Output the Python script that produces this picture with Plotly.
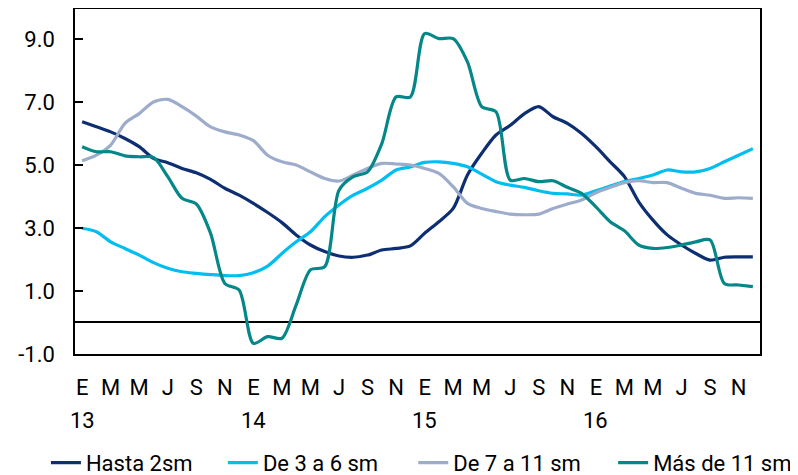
import plotly.graph_objects as go

months = list(range(48))
month_letters = ["E", "M", "M", "J", "S", "N"]
years = ["13", "14", "15", "16"]

hasta_2sm = [6.37, 6.21, 6.05, 5.84, 5.58, 5.21, 5.07, 4.89, 4.75, 4.54, 4.26, 4.04,
             3.78, 3.49, 3.17, 2.78, 2.46, 2.25, 2.11, 2.07, 2.14, 2.30, 2.35, 2.43,
             2.83, 3.20, 3.62, 4.68, 5.37, 5.95, 6.26, 6.63, 6.85, 6.53, 6.32, 6.00,
             5.58, 5.10, 4.63, 3.83, 3.25, 2.78, 2.46, 2.19, 1.98, 2.07, 2.08, 2.08]
de_3_a_6 = [2.99, 2.88, 2.56, 2.35, 2.14, 1.90, 1.72, 1.61, 1.56, 1.52, 1.49, 1.49,
            1.58, 1.79, 2.19, 2.56, 2.88, 3.36, 3.73, 4.04, 4.26, 4.52, 4.84, 4.94,
            5.08, 5.10, 5.05, 4.94, 4.71, 4.47, 4.36, 4.29, 4.18, 4.10, 4.08, 4.04,
            4.18, 4.33, 4.47, 4.57, 4.68, 4.84, 4.78, 4.78, 4.89, 5.10, 5.31, 5.52]
de_7_a_11 = [5.13, 5.31, 5.63, 6.32, 6.63, 7.00, 7.08, 6.85, 6.55, 6.21, 6.05, 5.95,
             5.77, 5.31, 5.10, 5.00, 4.78, 4.57, 4.49, 4.68, 4.89, 5.05, 5.03, 5.00,
             4.89, 4.73, 4.31, 3.78, 3.62, 3.52, 3.44, 3.42, 3.44, 3.62, 3.76, 3.89,
             4.12, 4.29, 4.44, 4.50, 4.44, 4.44, 4.26, 4.10, 4.04, 3.94, 3.96, 3.94]
mas_de_11 = [5.58, 5.42, 5.42, 5.29, 5.26, 5.24, 4.63, 3.94, 3.76, 2.83, 1.24, 1.03,
             -0.66, -0.45, -0.50, 0.56, 1.67, 1.77, 4.20, 4.63, 4.78, 5.68, 7.16, 7.16,
             9.17, 9.01, 9.01, 8.27, 6.85, 6.69, 4.52, 4.57, 4.47, 4.50, 4.29, 4.10,
             3.67, 3.20, 2.91, 2.46, 2.35, 2.38, 2.46, 2.56, 2.62, 1.24, 1.19, 1.14]

series = [
    ("Hasta 2sm", hasta_2sm, "#0D2F72"),
    ("De 3 a 6 sm", de_3_a_6, "#00BEF0"),
    ("De 7 a 11 sm", de_7_a_11, "#9DACCB"),
    ("Más de 11 sm", mas_de_11, "#05878A"),
]

ytick_vals = [-1, 1, 3, 5, 7, 9]
ytick_text = ["-1.0", "1.0", "3.0", "5.0", "7.0", "9.0"]

FONT = "Roboto"
legend_x = [0.048, 0.272, 0.513, 0.766]
legend_ids = ["legend", "legend2", "legend3", "legend4"]

fig = go.Figure()
for (name, vals, color), lid in zip(series, legend_ids):
    fig.add_trace(go.Scatter(
        x=months, y=vals, name=name, mode="lines", legend=lid,
        line=dict(color=color, width=3.2, shape="spline", smoothing=0.8),
    ))

xtick_vals = months[::2]
xtick_text = [month_letters[(m // 2) % 6] for m in xtick_vals]

# page body has an 8px margin, so the figure is 8px smaller than the window
fig.update_layout(
    width=790, height=467,
    margin=dict(l=67, r=38, t=1, b=121, autoexpand=False),
    plot_bgcolor="white", paper_bgcolor="white",
    font=dict(family=FONT, size=22, color="#000000"),
    showlegend=True,
)
for lid, lx in zip(legend_ids, legend_x):
    fig.update_layout({lid: dict(
        orientation="h", xref="container", yref="container",
        x=lx, xanchor="left", y=0.026, yanchor="middle",
        font=dict(family=FONT, size=22, color="#000000"),
        itemwidth=30, bgcolor="rgba(0,0,0,0)",
    )})

fig.update_xaxes(
    range=[-0.5, 47.5], tickvals=xtick_vals, ticktext=xtick_text,
    showgrid=False, zeroline=False, ticks="", automargin=False,
    showline=True, mirror=True, linecolor="#000000", linewidth=1.5,
    ticklabelstandoff=13,
)
fig.update_yaxes(
    range=[-1, 9.95], tickvals=ytick_vals, ticktext=ytick_text,
    showgrid=False, ticks="inside", ticklen=8, tickwidth=1.5, tickcolor="#000000",
    zeroline=True, zerolinecolor="#000000", zerolinewidth=1.5, automargin=False,
    showline=True, mirror=True, linecolor="#000000", linewidth=1.5,
    ticklabelstandoff=14,
)

for i, yr in enumerate(years):
    fig.add_annotation(x=i * 12, y=-0.194, xref="x", yref="paper", text=yr,
                       showarrow=False, yanchor="middle", xanchor="center",
                       font=dict(family=FONT, size=22, color="#000000"))

fig.write_html("out.html")
